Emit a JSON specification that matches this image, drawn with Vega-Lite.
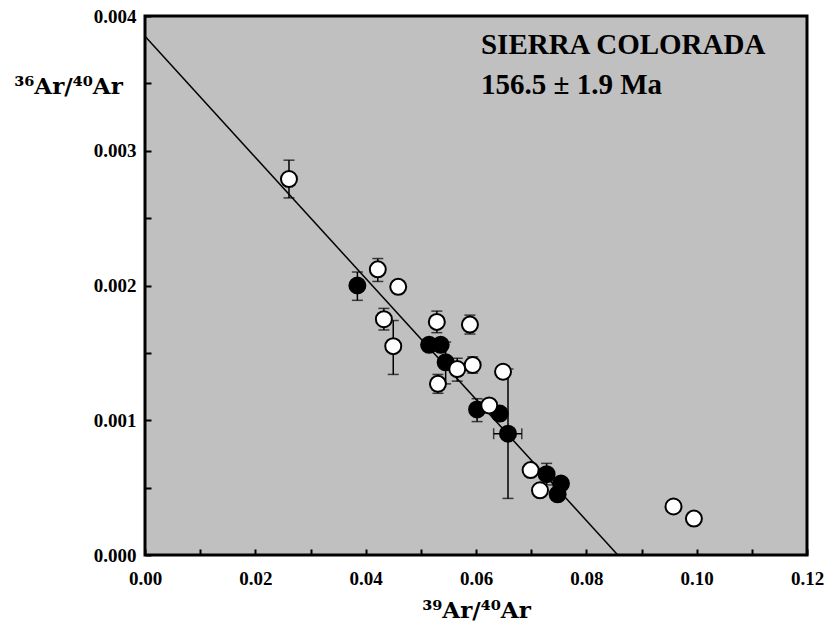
{
  "$schema": "https://vega.github.io/schema/vega-lite/v6.json",
  "width": 662,
  "height": 539,
  "autosize": {"type": "none"},
  "padding": {"left": 145, "top": 16, "right": 17, "bottom": 71},
  "background": "white",
  "config": {
    "view": {"fill": "#c0c0c0", "stroke": "black", "strokeWidth": 3},
    "font": "Liberation Serif"
  },
  "datasets": {
    "fit": [{"x": 0, "y": 0.00385}, {"x": 0.0857, "y": 0}],
    "pts": [
      {"x": 0.0385, "y": 0.00200, "type": "filled"},
      {"x": 0.0515, "y": 0.00156, "type": "filled"},
      {"x": 0.0536, "y": 0.00156, "type": "filled"},
      {"x": 0.0545, "y": 0.00143, "type": "filled"},
      {"x": 0.0602, "y": 0.00108, "type": "filled"},
      {"x": 0.0643, "y": 0.00105, "type": "filled"},
      {"x": 0.0658, "y": 0.00090, "type": "filled"},
      {"x": 0.0699, "y": 0.00063, "type": "open"},
      {"x": 0.0716, "y": 0.00048, "type": "open"},
      {"x": 0.0728, "y": 0.00060, "type": "filled"},
      {"x": 0.0754, "y": 0.00053, "type": "filled"},
      {"x": 0.0748, "y": 0.00045, "type": "filled"},
      {"x": 0.0261, "y": 0.00279, "type": "open"},
      {"x": 0.0422, "y": 0.00212, "type": "open"},
      {"x": 0.0459, "y": 0.00199, "type": "open"},
      {"x": 0.0433, "y": 0.00175, "type": "open"},
      {"x": 0.0450, "y": 0.00155, "type": "open"},
      {"x": 0.0529, "y": 0.00173, "type": "open"},
      {"x": 0.0589, "y": 0.00171, "type": "open"},
      {"x": 0.0566, "y": 0.00138, "type": "open"},
      {"x": 0.0594, "y": 0.00141, "type": "open"},
      {"x": 0.0531, "y": 0.00127, "type": "open"},
      {"x": 0.0649, "y": 0.00136, "type": "open"},
      {"x": 0.0624, "y": 0.00111, "type": "open"},
      {"x": 0.0958, "y": 0.00036, "type": "open"},
      {"x": 0.0995, "y": 0.00027, "type": "open"}
    ],
    "yerr": [
      {"x": 0.0261, "lo": 0.00265, "hi": 0.00293},
      {"x": 0.0422, "lo": 0.00203, "hi": 0.00220},
      {"x": 0.0385, "lo": 0.00189, "hi": 0.00210},
      {"x": 0.0433, "lo": 0.00167, "hi": 0.00183},
      {"x": 0.0450, "lo": 0.00134, "hi": 0.00174},
      {"x": 0.0529, "lo": 0.00165, "hi": 0.00181},
      {"x": 0.0589, "lo": 0.00164, "hi": 0.00178},
      {"x": 0.0566, "lo": 0.00129, "hi": 0.00146},
      {"x": 0.0594, "lo": 0.00135, "hi": 0.00147},
      {"x": 0.0531, "lo": 0.00120, "hi": 0.00134},
      {"x": 0.0545, "lo": 0.00127, "hi": 0.00158},
      {"x": 0.0602, "lo": 0.00099, "hi": 0.00116},
      {"x": 0.0658, "lo": 0.00042, "hi": 0.00138},
      {"x": 0.0728, "lo": 0.00052, "hi": 0.00068}
    ],
    "xerr": [
      {"y": 0.00090, "lo": 0.0632, "hi": 0.0683}
    ],
    "notes": [
      {"x": 0.0609, "y": 0.003718, "label": "SIERRA COLORADA"},
      {"x": 0.0609, "y": 0.003421, "label": "156.5 ± 1.9 Ma"}
    ]
  },
  "encoding": {
    "x": {
      "type": "quantitative",
      "scale": {"domain": [0, 0.12], "nice": false, "zero": false},
      "axis": {
        "values": [0, 0.01, 0.02, 0.03, 0.04, 0.05, 0.06, 0.07, 0.08, 0.09, 0.10, 0.11, 0.12],
        "labelExpr": "round(datum.value*100) % 2 == 0 ? format(datum.value, '.2f') : ''",
        "domain": false, "grid": false,
        "tickSize": -6, "tickWidth": 2, "tickColor": "black",
        "labelFont": "Liberation Serif", "labelFontSize": 19, "labelFontWeight": "bold", "labelColor": "black",
        "labelPadding": 20, "labelFlush": false, "labelOverlap": false,
        "title": "³⁹Ar/⁴⁰Ar",
        "titleFont": "DejaVu Serif", "titleFontSize": 23, "titleFontWeight": "bold", "titleColor": "black",
        "titleX": 331, "titleY": 62, "titleAlign": "center", "titleBaseline": "alphabetic"
      }
    },
    "y": {
      "type": "quantitative",
      "scale": {"domain": [0, 0.004], "nice": false, "zero": false},
      "axis": {
        "values": [0, 0.0005, 0.001, 0.0015, 0.002, 0.0025, 0.003, 0.0035, 0.004],
        "labelExpr": "abs(datum.value*1000 - round(datum.value*1000)) < 0.000001 ? format(datum.value, '.3f') : ''",
        "domain": false, "grid": false,
        "tickSize": -6, "tickWidth": 2, "tickColor": "black",
        "labelFont": "Liberation Serif", "labelFontSize": 19, "labelFontWeight": "bold", "labelColor": "black",
        "labelPadding": 15, "labelFlush": false, "labelOverlap": false,
        "title": "³⁶Ar/⁴⁰Ar",
        "titleFont": "DejaVu Serif", "titleFontSize": 23, "titleFontWeight": "bold", "titleColor": "black",
        "titleAngle": 0, "titleX": -77, "titleY": 77, "titleAlign": "center", "titleBaseline": "alphabetic"
      }
    }
  },
  "layer": [
    {
      "data": {"name": "fit"},
      "mark": {"type": "line", "color": "black", "strokeWidth": 1.5},
      "encoding": {
        "x": {"field": "x", "type": "quantitative"},
        "y": {"field": "y", "type": "quantitative"}
      }
    },
    {
      "data": {"name": "yerr"},
      "mark": {"type": "rule", "color": "black", "strokeWidth": 1.5},
      "encoding": {
        "x": {"field": "x", "type": "quantitative"},
        "y": {"field": "lo", "type": "quantitative"},
        "y2": {"field": "hi"}
      }
    },
    {
      "data": {"name": "yerr"},
      "mark": {"type": "tick", "color": "black", "orient": "horizontal", "size": 11, "thickness": 1.5},
      "encoding": {
        "x": {"field": "x", "type": "quantitative"},
        "y": {"field": "lo", "type": "quantitative"}
      }
    },
    {
      "data": {"name": "yerr"},
      "mark": {"type": "tick", "color": "black", "orient": "horizontal", "size": 11, "thickness": 1.5},
      "encoding": {
        "x": {"field": "x", "type": "quantitative"},
        "y": {"field": "hi", "type": "quantitative"}
      }
    },
    {
      "data": {"name": "xerr"},
      "mark": {"type": "rule", "color": "black", "strokeWidth": 1.5},
      "encoding": {
        "y": {"field": "y", "type": "quantitative"},
        "x": {"field": "lo", "type": "quantitative"},
        "x2": {"field": "hi"}
      }
    },
    {
      "data": {"name": "xerr"},
      "mark": {"type": "tick", "color": "black", "orient": "vertical", "size": 11, "thickness": 1.5},
      "encoding": {
        "y": {"field": "y", "type": "quantitative"},
        "x": {"field": "lo", "type": "quantitative"}
      }
    },
    {
      "data": {"name": "xerr"},
      "mark": {"type": "tick", "color": "black", "orient": "vertical", "size": 11, "thickness": 1.5},
      "encoding": {
        "y": {"field": "y", "type": "quantitative"},
        "x": {"field": "hi", "type": "quantitative"}
      }
    },
    {
      "data": {"name": "pts"},
      "mark": {"type": "point", "shape": "circle", "filled": true, "stroke": "black", "strokeWidth": 2, "size": 256, "opacity": 1},
      "encoding": {
        "x": {"field": "x", "type": "quantitative"},
        "y": {"field": "y", "type": "quantitative"},
        "fill": {"field": "type", "type": "nominal", "scale": {"domain": ["filled", "open"], "range": ["black", "white"]}, "legend": null}
      }
    },
    {
      "data": {"name": "notes"},
      "mark": {"type": "text", "align": "left", "baseline": "alphabetic", "font": "Liberation Serif", "fontSize": 29, "fontWeight": "bold", "color": "black"},
      "encoding": {
        "x": {"field": "x", "type": "quantitative"},
        "y": {"field": "y", "type": "quantitative"},
        "text": {"field": "label"}
      }
    }
  ]
}
